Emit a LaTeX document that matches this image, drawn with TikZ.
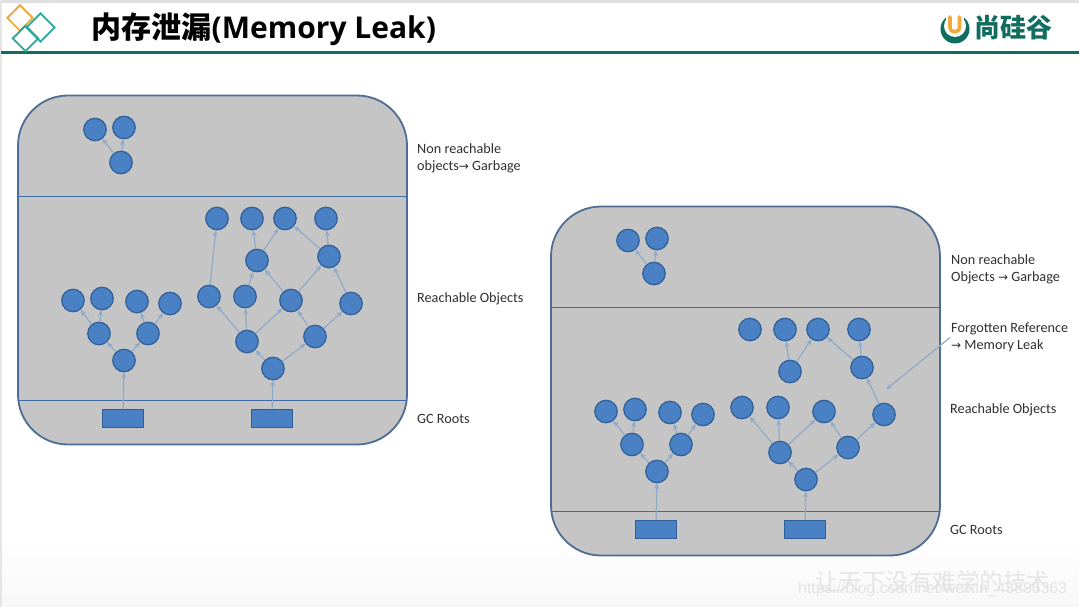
\documentclass[tikz,border=0pt]{standalone}
\usepackage{fontspec}
\setmainfont{Carlito}
\newfontfamily\cjk{Noto Sans CJK SC}
\newfontfamily\titlefont{Open Sans}
\newfontfamily\arrowfont{DejaVu Sans}
\newfontfamily\urlfont{Liberation Sans}
\usetikzlibrary{arrows.meta}
\definecolor{panelfill}{HTML}{C5C5C5}
\definecolor{panelline}{HTML}{4F6D94}
\definecolor{secline}{HTML}{3E6BA3}
\definecolor{nodefill}{HTML}{4A80C4}
\definecolor{nodeline}{HTML}{2F5F98}
\definecolor{edgecol}{HTML}{8FA9C9}
\definecolor{teal}{HTML}{0F6E60}
\definecolor{dteal}{HTML}{2FA79B}
\definecolor{orangeb}{HTML}{F0A93C}
\definecolor{lbl}{HTML}{303030}
\tikzset{
  obj/.style={circle,draw=nodeline,line width=1.2pt,fill=nodefill,minimum size=22.5pt,inner sep=0pt},
  rootbox/.style={rectangle,draw=nodeline,line width=.8pt,fill=nodefill,minimum width=41pt,minimum height=18pt,inner sep=0pt},
  edge/.style={draw=edgecol,line width=1.2pt,-{Stealth[length=6pt,width=5pt]}},
  lbltext/.style={anchor=west,inner sep=0pt,align=left,font=\fontsize{14.2}{17}\selectfont,text=lbl},
  diam/.style={line width=1.8pt,rotate=45,minimum size=18pt,rectangle,inner sep=0pt,fill=none},
}
\newcommand{\panelcommon}{%
  \draw[panelline,line width=1.8pt,fill=panelfill,rounded corners=50pt] (18,95) rectangle (407,444);
  \coordinate (secaL) at (18,196); \coordinate (secaR) at (407,196);
  \coordinate (secbL) at (18,400); \coordinate (secbR) at (407,400);
  \draw[secline,line width=1.8pt] (secaL) -- (secaR);
  \draw[secline,line width=1.8pt] (secbL) -- (secbR);
  \node[obj] (a1) at (95,129) {}; \node[obj] (a2) at (124,127) {}; \node[obj] (a3) at (121,162) {};
  \node[obj] (t1) at (73,300) {}; \node[obj] (t2) at (102,298) {}; \node[obj] (t3) at (137,301) {}; \node[obj] (t4) at (170,303) {};
  \node[obj] (m1) at (99,333) {}; \node[obj] (m2) at (148,333) {}; \node[obj] (r) at (124,360) {};
  \node[rootbox] (box1) at (123,418) {};
  \node[obj] (u1) at (217,218) {}; \node[obj] (u2) at (252,218) {}; \node[obj] (u3) at (285,218) {}; \node[obj] (u4) at (326,218) {};
  \node[obj] (v1) at (257,260) {}; \node[obj] (v2) at (329,256) {};
  \node[obj] (w1) at (209,296) {}; \node[obj] (w2) at (245,296) {}; \node[obj] (w3) at (291,300) {}; \node[obj] (w4) at (351,303) {};
  \node[obj] (x1) at (247,341) {}; \node[obj] (x2) at (315,336) {}; \node[obj] (y1) at (273,368) {};
  \node[rootbox] (box2) at (272,418) {};
  \foreach \p/\q in {a3/a1,a3/a2,m1/t1,m1/t2,m2/t3,m2/t4,r/m1,r/m2,box1/r,
    v1/u2,v1/u3,v2/u3,v2/u4,w4/v2,x1/w1,x1/w2,x1/w3,x2/w3,x2/w4,y1/x1,y1/x2,box2/y1}
    \draw[edge] (\p) -- (\q);
  \node[lbltext] (lreach) at (417,298) {Reachable Objects};
  \node[lbltext] (lroots) at (417,418) {GC Roots};
}
\begin{document}
\begin{tikzpicture}[x=1pt,y=-1pt]
\useasboundingbox (0,0) rectangle (1079,607);
% slide background
\fill[white] (0,0) rectangle (1079,607);
\shade[top color=white,bottom color=black!3] (0,540) rectangle (1079,607);
\fill[black!12] (0,0) rectangle (1079,3);
\fill[black!10] (0,0) rectangle (1.5,607);
\fill[teal] (1,51) rectangle (1079,54);
% header logo diamonds
\node[diam,draw=orangeb] (d1) at (20,18) {};
\node[diam,draw=dteal,minimum size=20pt] (d2) at (40.5,27.5) {};
\node[diam,draw=dteal] (d3) at (25.5,38.5) {};
\node[anchor=base west,inner sep=0pt,font=\bfseries\fontsize{30}{30}\selectfont] (title) at (91.5,39) {{\cjk 内存泄漏}{\titlefont (Memory Leak)}};
% company logo
\fill[teal] (955,29) circle (14.5);
\fill[white] (955,26) circle (11);
\fill[white] (946,12) rectangle (964,24);
\draw[orangeb,line width=3.6pt,line cap=round] (950,17) -- (950,27) .. controls (950,33.5) and (959.5,33.5) .. (959.5,27) -- (959.5,17);
\node[anchor=west,inner sep=0pt,text=teal,font=\cjk\bfseries\fontsize{26}{26}\selectfont] (brand) at (974,28) {尚硅谷};
% left panel
\begin{scope}[shift={(0,0.5)},name prefix=L-]
\panelcommon
\foreach \p/\q in {w1/u1,w2/v1,w3/v1,w3/v2} \draw[edge] (\p) -- (\q);
\node[lbltext] (lnon) at (417,157.5) {Non reachable\\objects{\arrowfont\fontsize{12}{12}\selectfont→} Garbage};
\end{scope}
% right panel
\begin{scope}[shift={(533,111.5)},name prefix=R-]
\panelcommon
\node[lbltext] (lnon) at (418,157.5) {Non reachable\\Objects {\arrowfont\fontsize{12}{12}\selectfont→} Garbage};
\node[lbltext] (lforgot) at (418,225.5) {Forgotten Reference\\{\arrowfont\fontsize{12}{12}\selectfont→} Memory Leak};
\coordinate (fstart) at (417,226);
\coordinate (fend) at (353,278);
\draw[edge] (fstart) -- (fend);
\end{scope}
% watermark
\node[anchor=west,inner sep=0pt,text=black!10,font=\cjk\fontsize{23.5}{24}\selectfont] (wm1) at (815,581) {让天下没有难学的技术};
\node[anchor=west,inner sep=0pt,text=black!11,font=\urlfont\fontsize{15.8}{16}\selectfont] (wm2) at (798,589) {https://blog.csdn.net/weixin\_43896363};
\end{tikzpicture}
\end{document}
